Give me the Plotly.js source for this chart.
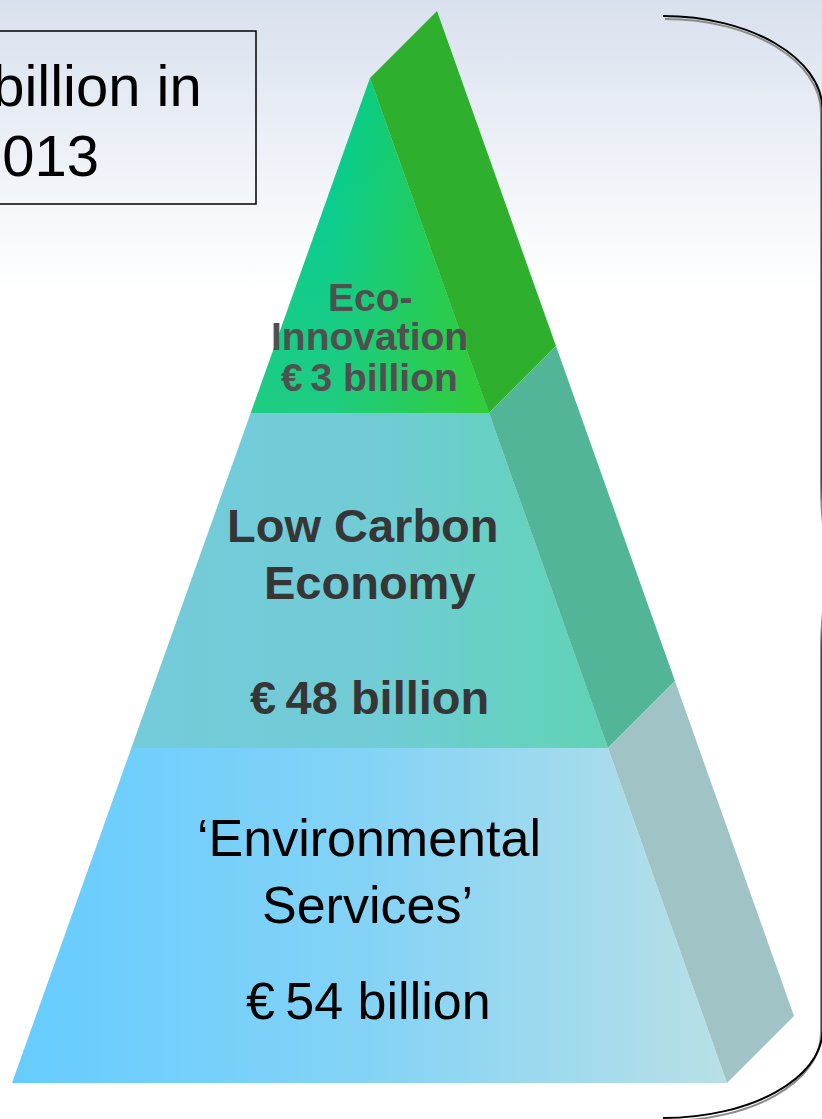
<!DOCTYPE html>
<html>
<head>
<meta charset="utf-8">
<script src="https://cdn.plot.ly/plotly-3.0.1.min.js"></script>
<style>html,body{margin:0;padding:0;background:#fff;}#chart{width:822px;height:1119px;}</style>
</head>
<body>
<div id="chart"></div>
<script>
// ---- data ----
const layerNames = [["Eco-", "Innovation"], ["Low Carbon", "Economy"], ["\u2018Environmental", "Services\u2019"]];
const layerValues = [3, 48, 54];           // € billion
const valueUnit = "billion";
const year = "2013";

// ---- geometry / styles ----
const W = 822, H = 1119;
const apex = {x: 370, y: 78}, baseY = 1083, leftSpan = 358, rightSpan = 357;
const side = {dx: 67, dy: -67};
const nL = layerNames.length;
const xl = t => apex.x - leftSpan * t;
const xr = t => apex.x + rightSpan * t;
const yy = t => apex.y + (baseY - apex.y) * t;

const frontBase = [
  {type: 'vertical', cs: [[0, '#00cc99'], [1, '#1fcc82']]},
  {type: 'horizontal', cs: [[0, '#74cbda'], [0.5, '#71ccd6'], [1, '#6ccfd0']]},
  {type: 'horizontal', cs: [[0, '#66ccff'], [0.5, '#84d3f6'], [1, '#b8e0e6']]}
];
const frontOver = [
  {type: 'horizontal', cs: [[0, 'rgba(51,204,51,0)'], [1, 'rgba(51,204,51,0.95)']], from: 330, to: 490},
  {type: 'horizontal', cs: [[0, 'rgba(92,212,170,0)'], [1, 'rgba(92,212,170,0.7)']], from: 380, to: 607},
  null
];
const sideColors = ['#2eb02e', '#52b598', '#a0c3c5'];

const traces = [];
// background gradient
traces.push({
  x: [0, W, W, 0, 0], y: [0, 0, 300, 300, 0], mode: 'lines', fill: 'toself',
  line: {width: 0}, hoverinfo: 'skip',
  fillgradient: {type: 'vertical', colorscale: [[0, '#d9e1ee'], [1, '#ffffff']], start: 0, stop: 290}
});

for (let i = 0; i < nL; i++) {
  const t0 = i / nL, t1 = (i + 1) / nL;
  const y0 = yy(t0), y1 = yy(t1);
  const fx = [xl(t0), xr(t0), xr(t1), xl(t1), xl(t0)];
  const fy = [y0, y0, y1, y1, y0];
  const b = frontBase[i];
  const bStart = b.type === 'vertical' ? y0 : xl(t1);
  const bStop = b.type === 'vertical' ? y1 : xr(t1);
  traces.push({x: fx, y: fy, mode: 'lines', fill: 'toself', line: {width: 0}, hoverinfo: 'skip',
    fillgradient: {type: b.type, colorscale: b.cs, start: bStart, stop: bStop}});
  const o = frontOver[i];
  if (o) {
    traces.push({x: fx, y: fy, mode: 'lines', fill: 'toself', line: {width: 0}, hoverinfo: 'skip',
      fillgradient: {type: o.type, colorscale: o.cs, start: o.from, stop: o.to}});
  }
  // side face
  traces.push({
    x: [xr(t0), xr(t1), xr(t1) + side.dx, xr(t0) + side.dx, xr(t0)],
    y: [y0, y1, y1 + side.dy, y0 + side.dy, y0],
    mode: 'lines', fill: 'toself', fillcolor: sideColors[i], line: {width: 0}, hoverinfo: 'skip'
  });
}

// ---- labels ----
const FONT = 'Liberation Sans, Arial, sans-serif';
const labelStyle = [
  {size: 39, color: '#505050', bold: true, ys: [297, 336, 377], xs: [370, 369, 369]},
  {size: 47, color: '#363636', bold: true, ys: [525, 582, 697], xs: [363, 370, 369]},
  {size: 52, color: '#000000', bold: false, ys: [838, 905, 1001], xs: [369, 367, 368]}
];
const annotations = [];
for (let i = 0; i < nL; i++) {
  const lines = layerNames[i].concat(["\u20ac\u2009" + layerValues[i] + " " + valueUnit]);
  const st = labelStyle[i];
  lines.forEach((ln, k) => {
    annotations.push({
      x: st.xs[k], y: st.ys[k], xref: 'x', yref: 'y', showarrow: false,
      xanchor: 'center', yanchor: 'middle',
      text: st.bold ? '<b>' + ln + '</b>' : ln,
      font: {family: FONT, size: st.size, color: st.color}
    });
  });
}
const total = layerValues.reduce((a, b) => a + b, 0);
annotations.push({x: 204, y: 85, xref: 'x', yref: 'y', showarrow: false, xanchor: 'right', yanchor: 'middle',
  text: "\u20ac" + total + " " + valueUnit + " in", font: {family: FONT, size: 58, color: '#000'}});
annotations.push({x: 101, y: 155, xref: 'x', yref: 'y', showarrow: false, xanchor: 'right', yanchor: 'middle',
  text: year, font: {family: FONT, size: 58, color: '#000'}});

// ---- shapes ----
const bracePath = (dx, dy, vx) =>
  `M ${663 + dx},${16 + dy} C ${750 + dx},${16 + dy} ${vx},${58 + dy} ${vx},${110 + dy} ` +
  `L ${vx},${480 + dy} Q ${vx},${565 + dy} ${vx + 25},${565 + dy} Q ${vx},${565 + dy} ${vx},${650 + dy} ` +
  `L ${vx},${1030 + dy} C ${vx},${1079 + dy} ${750 + dx},${1118 + dy} ${663 + dx},${1118 + dy}`;
const shapes = [
  {type: 'rect', xref: 'x', yref: 'y', x0: -5, x1: 256, y0: 31, y1: 204,
   line: {color: '#000', width: 1.5}, fillcolor: 'rgba(0,0,0,0)'},
  {type: 'path', xref: 'x', yref: 'y', path: bracePath(2, 3, 821), line: {color: '#8a8a8a', width: 2}},
  {type: 'path', xref: 'x', yref: 'y', path: bracePath(0, 0, 822.5), line: {color: '#000', width: 2}}
];

const layout = {
  width: W, height: H, margin: {l: 0, r: 0, t: 0, b: 0},
  paper_bgcolor: '#ffffff', plot_bgcolor: 'rgba(0,0,0,0)', showlegend: false,
  xaxis: {range: [0, W], visible: false, fixedrange: true},
  yaxis: {range: [H, 0], visible: false, fixedrange: true},
  annotations: annotations, shapes: shapes
};
Plotly.newPlot('chart', traces, layout, {staticPlot: true, displayModeBar: false});
</script>
</body>
</html>
